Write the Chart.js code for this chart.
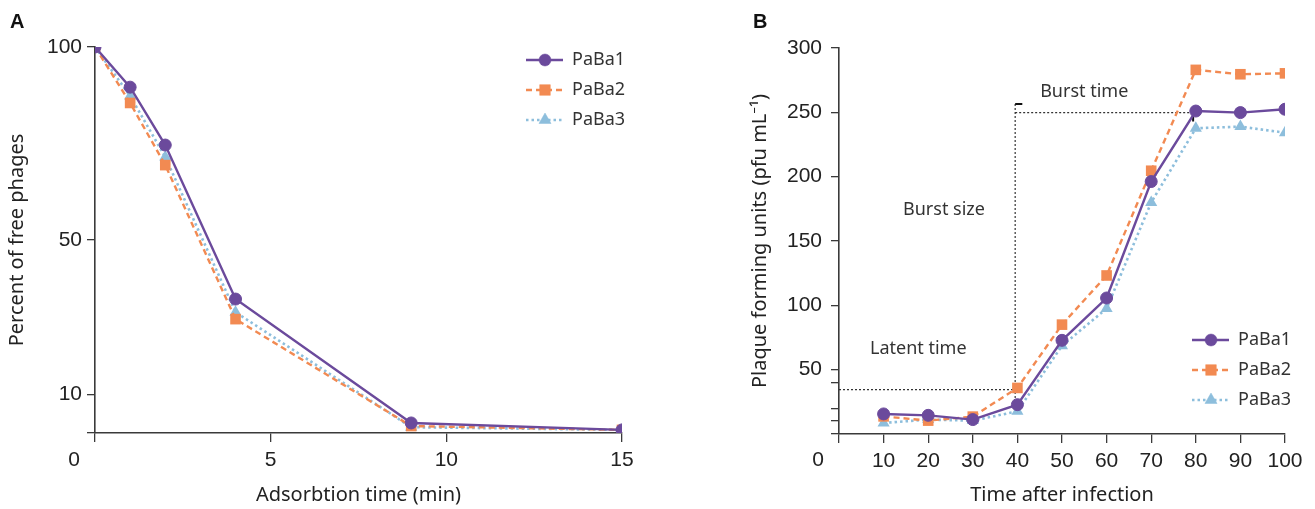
<!DOCTYPE html>
<html><head><meta charset="utf-8">
<script src="https://cdn.jsdelivr.net/npm/chart.js@4.4.1/dist/chart.umd.min.js"></script>
<style>
html,body{margin:0;padding:0;background:#fff;width:1315px;height:509px;overflow:hidden;}
#boxA{position:absolute;left:0;top:0;width:660px;height:509px;}
#boxB{position:absolute;left:660px;top:0;width:655px;height:509px;}
</style></head><body>
<div id="boxA"><canvas id="cA"></canvas></div>
<div id="boxB"><canvas id="cB"></canvas></div>
<script>
// ---------- DATA ----------
const seriesNames = ['PaBa1', 'PaBa2', 'PaBa3'];

// Panel A: adsorption
const timesA = [0, 1, 2, 4, 9, 15];
const paba1A = [100, 89.6, 74.6, 34.7, 2.6, 0.8];
const paba2A = [100, 85.5, 69.4, 29.5, 1.8, 0.8];
const paba3A = [100, 87.3, 71.5, 31.3, 1.5, 0.8];
const xTicksA = [0, 5, 10, 15];
const yTicksA = [0, 10, 50, 100];

// Panel B: one-step growth
const timesB = [10, 20, 30, 40, 50, 60, 70, 80, 90, 100];
const paba1B = [15.6, 14.5, 11.2, 22.8, 72.8, 105.7, 196.2, 251, 249.8, 252.4];
const paba2B = [13.7, 10.4, 13.5, 35.8, 85, 123.2, 204.6, 283, 279.6, 280.3];
const paba3B = [8.6, 11.2, 10.4, 17.6, 68.6, 97.5, 180, 237.6, 238.9, 234.2];
const xTicksB = [0, 10, 20, 30, 40, 50, 60, 70, 80, 90, 100];
const yTicksB = [0, 10, 20, 40, 50, 100, 150, 200, 250, 300];
const yLabelsB = [50, 100, 150, 200, 250, 300];

// Panel B annotation values (data units)
const latentLevel = 34.5;     // y of latent-time line
const latentEnd = 39.5;       // x where latent period ends
const burstLevel = 249.8;     // y of burst plateau line
const burstEnd = 79.4;        // x where burst ends
const burstTop = 256.4;       // top of vertical line
const verticalBottom = 26.7;  // bottom of vertical line
const annotTexts = [
  {text: 'Burst time', x: 45.1, y: 265.8},
  {text: 'Burst size', x: 14.35, y: 174.2},
  {text: 'Latent time', x: 6.95, y: 66.3}
];

// ---------- STYLE ----------
const C1 = '#6B4A9C', C2 = '#F28A52', C3 = '#8DBEDC';
const AX = '#3a3a3a';
const tickFont = {family: '"Liberation Sans", Arial, sans-serif', size: 21};
const titleFont = {family: '"Noto Sans", sans-serif', size: 20};
const textFont = '18px "Noto Sans", sans-serif';

function pts(xs, ys) { return xs.map((x, i) => ({x: x, y: ys[i]})); }

function makeDatasets(xs, a, b, c) {
  return [
    {label: seriesNames[0], data: pts(xs, a), borderColor: C1, backgroundColor: C1,
     borderWidth: 2.4, pointStyle: 'circle', pointRadius: 6, pointBorderWidth: 1, tension: 0},
    {label: seriesNames[1], data: pts(xs, b), borderColor: C2, backgroundColor: C2,
     borderWidth: 2.4, borderDash: [6, 4], pointStyle: 'rect', pointRadius: 7.5, pointBorderWidth: 0, tension: 0},
    {label: seriesNames[2], data: pts(xs, c), borderColor: C3, backgroundColor: C3,
     borderWidth: 2.6, borderDash: [2.5, 3], pointStyle: 'triangle', pointRadius: 7, pointBorderWidth: 0, tension: 0}
  ];
}

// custom legend + origin "0" + panel letter
const decorPlugin = {
  id: 'decor',
  afterDatasetsDraw(chart, args, opts) {
    const ctx = chart.ctx;
    const xs = chart.scales.x;
    ctx.save();
    // panel letter
    ctx.fillStyle = '#111';
    ctx.font = 'bold 20px "Liberation Sans", Arial, sans-serif';
    ctx.textAlign = 'left'; ctx.textBaseline = 'alphabetic';
    ctx.fillText(opts.letter, opts.letterX, 28);
    // origin label
    ctx.fillStyle = '#222';
    ctx.font = '21px "Liberation Sans", Arial, sans-serif';
    ctx.textAlign = 'center'; ctx.textBaseline = 'middle';
    ctx.fillText('0', xs.getPixelForValue(0) - 21, 460);
    // legend
    chart.data.datasets.forEach((ds, i) => {
      const y = opts.legY + i * 30;
      ctx.save();
      ctx.strokeStyle = ds.borderColor;
      ctx.lineWidth = ds.borderWidth;
      ctx.setLineDash(ds.borderDash || []);
      ctx.beginPath(); ctx.moveTo(opts.legX, y); ctx.lineTo(opts.legX + 37, y); ctx.stroke();
      ctx.setLineDash([]);
      ctx.fillStyle = ds.backgroundColor; ctx.strokeStyle = ds.backgroundColor; ctx.lineWidth = 0.5;
      Chart.helpers.drawPoint(ctx, {pointStyle: ds.pointStyle, radius: ds.pointRadius, borderWidth: 0.5, rotation: 0},
        opts.legX + 19, y);
      ctx.restore();
      ctx.fillStyle = '#333';
      ctx.font = textFont;
      ctx.textAlign = 'left'; ctx.textBaseline = 'middle';
      ctx.fillText(ds.label, opts.legX + 46, y);
    });
    ctx.restore();
  }
};

const annotPlugin = {
  id: 'annot',
  beforeDatasetsDraw(chart, args, opts) {
    if (!opts.on) return;
    const ctx = chart.ctx;
    const xs = chart.scales.x, ys = chart.scales.y;
    const px = v => xs.getPixelForValue(v), py = v => ys.getPixelForValue(v);
    ctx.save();
    ctx.strokeStyle = '#333';
    ctx.lineWidth = 1.2;
    ctx.setLineDash([2, 2]);
    ctx.beginPath();
    ctx.moveTo(px(0), py(latentLevel)); ctx.lineTo(px(latentEnd), py(latentLevel));
    ctx.moveTo(px(latentEnd), py(burstTop)); ctx.lineTo(px(latentEnd), py(verticalBottom));
    ctx.moveTo(px(latentEnd), py(burstLevel)); ctx.lineTo(px(burstEnd), py(burstLevel));
    ctx.stroke();
    ctx.setLineDash([]);
    ctx.strokeStyle = '#111';
    ctx.lineWidth = 2;
    ctx.beginPath();
    ctx.moveTo(px(latentEnd), py(burstTop)); ctx.lineTo(px(latentEnd + 1.6), py(burstTop));
    ctx.moveTo(px(burstEnd), py(burstLevel)); ctx.lineTo(px(burstEnd), py(burstLevel - 7));
    ctx.stroke();
    ctx.fillStyle = '#333';
    ctx.font = textFont;
    ctx.textAlign = 'left'; ctx.textBaseline = 'middle';
    annotTexts.forEach(t => ctx.fillText(t.text, px(t.x), py(t.y)));
    ctx.restore();
  }
};

function axisCommon(tickLen, pad) {
  return {
    grid: {display: true, drawOnChartArea: false, drawTicks: true, tickLength: tickLen, color: AX, lineWidth: 1.3},
    border: {display: true, color: AX, width: 1.6},
    ticks: {font: tickFont, color: '#222', padding: pad, autoSkip: false, maxRotation: 0}
  };
}

function makeChart(id, cfg) {
  const xBase = axisCommon(9, 6), yBase = axisCommon(8, cfg.yPad);
  return new Chart(document.getElementById(id), {
    type: 'line',
    data: {datasets: cfg.datasets},
    options: {
      responsive: true, maintainAspectRatio: false, animation: false,
      layout: {padding: cfg.padding},
      plugins: {legend: {display: false}, tooltip: {enabled: false},
        decor: cfg.decor, annot: {on: cfg.annot}},
      scales: {
        x: Object.assign({}, xBase, {
          type: 'linear', min: cfg.xMin, max: cfg.xMax,
          afterBuildTicks: s => { s.ticks = cfg.xTicks.map(v => ({value: v})); },
          afterFit: s => { s.height = cfg.xH; },
          ticks: Object.assign({}, xBase.ticks, {callback: v => v === 0 ? '' : String(v)}),
          title: {display: true, text: cfg.xTitle, font: titleFont, color: '#222', padding: {top: 0, bottom: 2}}
        }),
        y: Object.assign({}, yBase, {
          type: 'linear', min: cfg.yMin, max: cfg.yMax,
          afterBuildTicks: s => { s.ticks = cfg.yTicks.map(v => ({value: v})); },
          afterFit: s => { s.width = cfg.yW; },
          ticks: Object.assign({}, yBase.ticks, {callback: v => cfg.yLabels.includes(v) ? String(v) : ''}),
          title: {display: true, text: cfg.yTitle, font: titleFont, color: '#222', padding: {top: cfg.yTitlePad, bottom: 0}}
        })
      }
    },
    plugins: [annotPlugin, decorPlugin]
  });
}

makeChart('cA', {
  datasets: makeDatasets(timesA, paba1A, paba2A, paba3A),
  padding: {left: 0, right: 38, top: 47, bottom: 0},
  xMin: 0, xMax: 15, xTicks: xTicksA, xH: 76, xTitle: 'Adsorbtion time (min)',
  yMin: 0, yMax: 100, yTicks: yTicksA, yLabels: [10, 50, 100], yW: 95, yPad: 5,
  yTitle: 'Percent of free phages', yTitlePad: 5,
  decor: {letter: 'A', letterX: 10, legX: 526, legY: 60},
  annot: false
});

makeChart('cB', {
  datasets: makeDatasets(timesB, paba1B, paba2B, paba3B),
  padding: {left: 0, right: 30, top: 48, bottom: 0},
  xMin: 0, xMax: 100, xTicks: xTicksB, xH: 75, xTitle: 'Time after infection',
  yMin: 0, yMax: 300, yTicks: yTicksB, yLabels: yLabelsB, yW: 179, yPad: 9,
  yTitle: 'Plaque forming units (pfu mL\u207B\u00B9)', yTitlePad: 88,
  decor: {letter: 'B', letterX: 93, legX: 532, legY: 340},
  annot: true
});
</script>
</body></html>
